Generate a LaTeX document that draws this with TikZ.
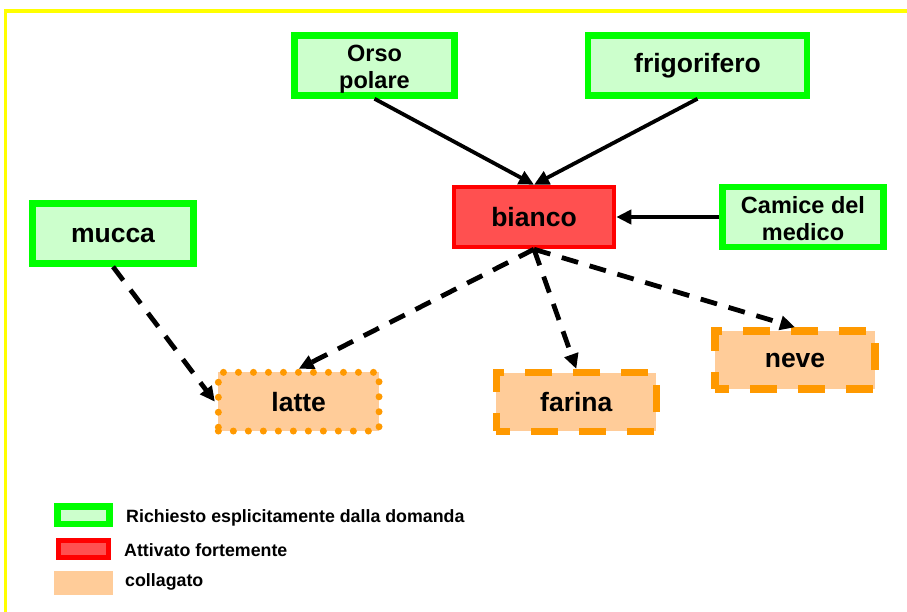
\documentclass[tikz,border=0pt]{standalone}
\usepackage{fontspec}
\setmainfont{Liberation Sans}
\usetikzlibrary{arrows.meta}
\definecolor{lgreen}{HTML}{CCFFCC}
\definecolor{vgreen}{HTML}{00FF00}
\definecolor{actred}{HTML}{FF5050}
\definecolor{lorange}{HTML}{FFCC99}
\definecolor{dorange}{HTML}{FF9900}
\definecolor{frameyellow}{HTML}{FFFF00}
\tikzset{
  basebox/.style={minimum width=160pt, minimum height=60pt, inner sep=0pt,
    font=\bfseries\fontsize{26.5}{31}\selectfont},
  twoline/.style={align=center, text height=52pt, text depth=5pt, font=\bfseries\fontsize{23.5}{27.5}\selectfont},
  reqbox/.style={basebox, draw=vgreen, fill=lgreen, line width=6.5pt},
  actbox/.style={basebox, draw=red, fill=actred, line width=4.5pt},
  dashbox/.style={basebox, draw=dorange, fill=lorange, line width=7.5pt, dash pattern=on 27pt off 21pt, dash phase=13pt},
  dotbox/.style={basebox, draw=dorange, fill=lorange, line width=7pt, line cap=round, dash pattern=on 0pt off 15pt},
  solidarrow/.style={line width=3.8pt, -{Triangle[length=15pt,width=14pt]}},
  dasharrow/.style={line width=4.8pt, dash pattern=on 17pt off 12pt, -{Triangle[length=15pt,width=14pt]}},
  legtext/.style={anchor=base west, inner sep=0pt, font=\bfseries\fontsize{17.8}{20}\selectfont},
}
\begin{document}
\begin{tikzpicture}[x=1pt,y=-1pt]
\useasboundingbox (0,0) rectangle (907,612);
\draw[frameyellow, line width=3.5pt] (5.5,612) -- (5.5,11) -- (907,11);

\node[reqbox, twoline] (orso) at (374.5,65.5) {Orso\\polare};
\node[reqbox, minimum width=219pt] (frig) at (697.5,65.5) {frigorifero};
\node[actbox] (bianco) at (534,217) {bianco};
\node[reqbox, twoline, minimum width=161pt] (camice) at (803,217) {Camice del\\medico};
\node[reqbox, minimum width=161pt, text height=18pt, text depth=0pt] (mucca) at (113,233.5) {mucca};
\node[dotbox, minimum width=160.7pt, minimum height=58.7pt] (latte) at (298.7,401.7) {latte};
\node[dashbox, minimum height=58.7pt] (farina) at (576.3,402) {farina};
\node[dashbox, minimum height=58pt] (neve) at (795,360) {neve};

\draw[solidarrow] (orso.south) -- (bianco.north);
\draw[solidarrow] (frig.south) -- (bianco.north);
\draw[solidarrow] (camice.west) -- (bianco.east);
\draw[dasharrow] (mucca.south) -- (latte.west);
\draw[dasharrow] (bianco.south) -- (latte.north);
\draw[dasharrow] (bianco.south) -- (farina.north);
\draw[dasharrow] (bianco.south) -- (neve.north);

\node[draw=vgreen, fill=lgreen, line width=6.5pt, minimum width=52pt, minimum height=17.5pt, inner sep=0pt] (lg1) at (83.5,515.3) {};
\node[draw=red, fill=actred, line width=5pt, minimum width=50.6pt, minimum height=17pt, inner sep=0pt] (lg2) at (83.5,549.3) {};
\node[fill=lorange, minimum width=58.4pt, minimum height=24pt, inner sep=0pt] (lg3) at (83.5,582.7) {};
\node[legtext] (lt1) at (126,522.3) {Richiesto esplicitamente dalla domanda};
\node[legtext] (lt2) at (124,556.7) {Attivato fortemente};
\node[legtext] (lt3) at (125,586.7) {collagato};
\end{tikzpicture}
\end{document}
